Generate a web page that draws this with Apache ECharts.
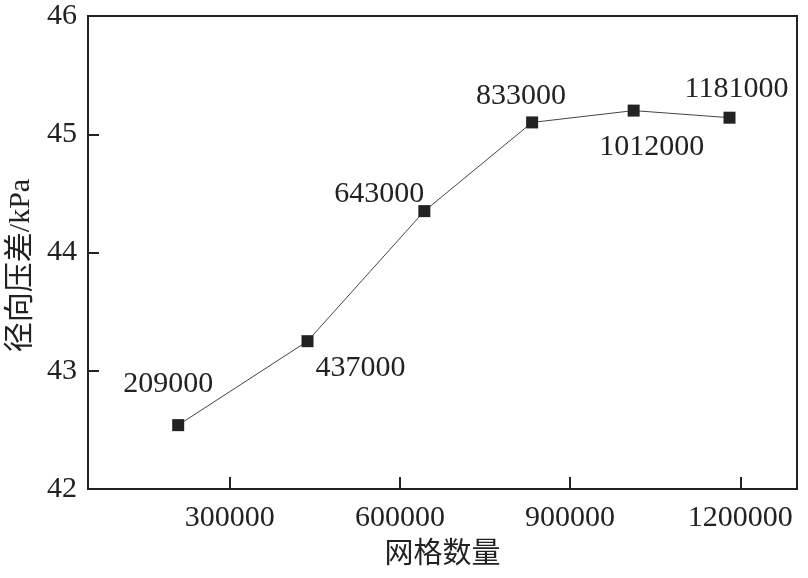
<!DOCTYPE html>
<html>
<head>
<meta charset="utf-8">
<script src="https://cdn.jsdelivr.net/npm/echarts@6/dist/echarts.min.js"></script>
<style>
  html, body { margin: 0; padding: 0; background: #fff; }
  #chart { width: 808px; height: 578px; }
</style>
</head>
<body>
<div id="chart"></div>
<script>
// 网格数量 vs 径向压差
const gridCounts = [209000, 437000, 643000, 833000, 1012000, 1181000]
const pressureDiff = [42.54, 43.25, 44.35, 45.10, 45.20, 45.14]
const xTickValues = [300000, 600000, 900000, 1200000]

// label offsets from each marker (px)
const labelOffsets = [[-10, -41], [53, 27], [-45, -17], [-11, -26], [18, 37], [7, -29]]

const FONT = '"Liberation Serif", "DejaVu Serif", "Noto Sans CJK SC", serif'
const INK = '#222'

const chart = echarts.init(document.getElementById('chart'))

const seriesData = gridCounts.map((x, i) => ({
  value: [x, pressureDiff[i]],
  label: { offset: labelOffsets[i] },
}))

chart.setOption({
  animation: false,
  grid: {
    left: 88,
    right: 11,
    top: 16,
    bottom: 89,
    containLabel: false,
    outerBoundsMode: 'none',
    show: true,
    borderColor: INK,
    borderWidth: 2,
  },
  xAxis: {
    type: 'value',
    min: 50000,
    max: 1300000,
    name: '网格数量',
    nameLocation: 'middle',
    nameGap: 52,
    nameTextStyle: { fontFamily: FONT, fontSize: 29, color: INK },
    axisLine: { show: true, lineStyle: { color: INK, width: 2 } },
    axisTick: { show: true, inside: true, length: 12, customValues: xTickValues, lineStyle: { color: INK, width: 2 } },
    axisLabel: {
      customValues: xTickValues,
      formatter: (v) => String(v),
      margin: 14,
      fontFamily: FONT,
      fontSize: 30,
      color: INK,
    },
    splitLine: { show: false },
  },
  yAxis: {
    type: 'value',
    min: 42,
    max: 46,
    interval: 1,
    name: '径向压差/kPa',
    nameLocation: 'middle',
    nameGap: 52,
    nameTextStyle: { fontFamily: FONT, fontSize: 30, color: INK, padding: [0, 26, 0, 0] },
    axisLine: { show: true, lineStyle: { color: INK, width: 2 } },
    axisTick: { show: true, inside: true, length: 11, lineStyle: { color: INK, width: 2 } },
    axisLabel: { margin: 11, fontFamily: FONT, fontSize: 30, color: INK },
    splitLine: { show: false },
  },
  series: [
    {
      type: 'line',
      data: seriesData,
      symbol: 'rect',
      symbolSize: 12,
      itemStyle: { color: INK },
      lineStyle: { color: '#444', width: 1 },
      label: {
        show: true,
        position: 'inside',
        formatter: (p) => String(p.value[0]),
        fontFamily: FONT,
        fontSize: 30,
        color: INK,
      },
    },
  ],
})
</script>
</body>
</html>
